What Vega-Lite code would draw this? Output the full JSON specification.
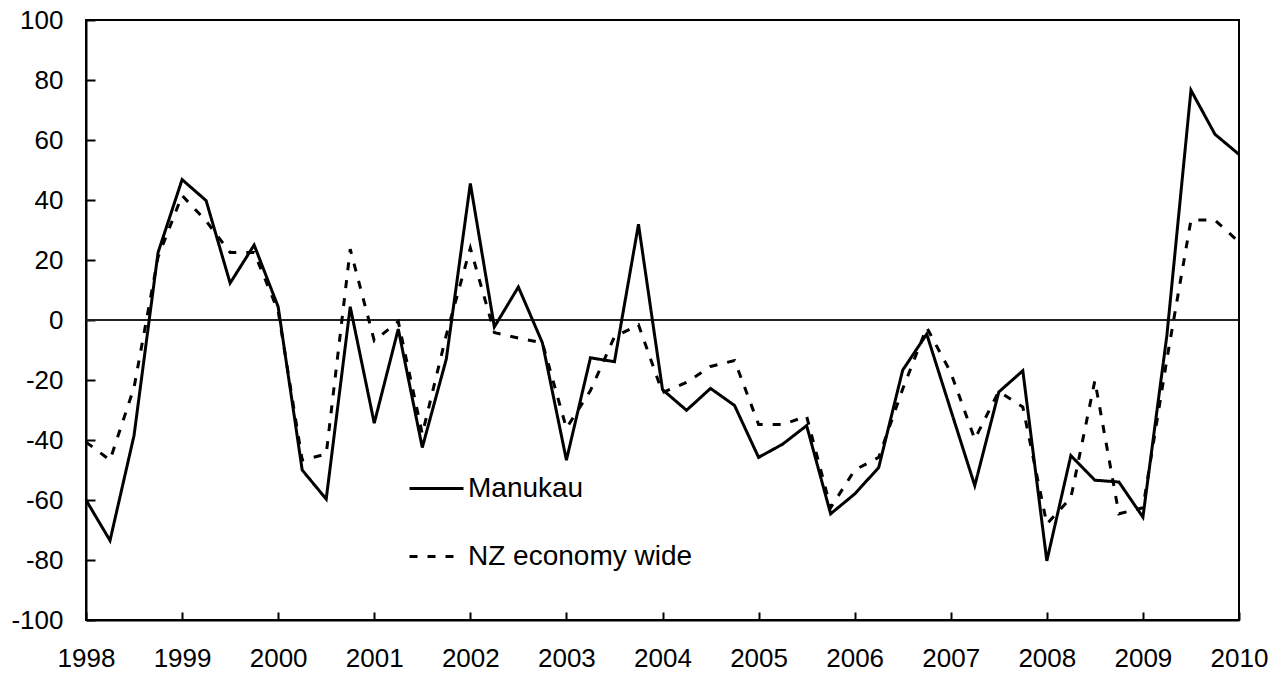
{
  "$schema": "https://vega.github.io/schema/vega-lite/v6.json",
  "width": 1153,
  "height": 600,
  "autosize": "none",
  "padding": {"left": 86, "top": 20, "right": 46, "bottom": 55},
  "background": "white",
  "config": {
    "font": "Liberation Sans",
    "view": {"stroke": "black", "strokeWidth": 2},
    "axis": {
      "grid": false,
      "title": null,
      "domainColor": "black",
      "domainWidth": 2,
      "ticks": true,
      "tickColor": "black",
      "tickWidth": 2,
      "labelColor": "black",
      "labelFont": "Liberation Sans",
      "labelFontSize": 26
    }
  },
  "data": {
    "values": [
      {"t": 1998.00, "series": "Manukau", "value": -60},
      {"t": 1998.25, "series": "Manukau", "value": -73.5},
      {"t": 1998.50, "series": "Manukau", "value": -38.5},
      {"t": 1998.75, "series": "Manukau", "value": 22.5},
      {"t": 1999.00, "series": "Manukau", "value": 46.8},
      {"t": 1999.25, "series": "Manukau", "value": 39.8},
      {"t": 1999.50, "series": "Manukau", "value": 12.3},
      {"t": 1999.75, "series": "Manukau", "value": 25},
      {"t": 2000.00, "series": "Manukau", "value": 4.4},
      {"t": 2000.25, "series": "Manukau", "value": -50},
      {"t": 2000.50, "series": "Manukau", "value": -59.7},
      {"t": 2000.75, "series": "Manukau", "value": 4.4},
      {"t": 2001.00, "series": "Manukau", "value": -34.4},
      {"t": 2001.25, "series": "Manukau", "value": -3},
      {"t": 2001.50, "series": "Manukau", "value": -42.5},
      {"t": 2001.75, "series": "Manukau", "value": -13},
      {"t": 2002.00, "series": "Manukau", "value": 45.5},
      {"t": 2002.25, "series": "Manukau", "value": -2.3},
      {"t": 2002.50, "series": "Manukau", "value": 11},
      {"t": 2002.75, "series": "Manukau", "value": -7.6},
      {"t": 2003.00, "series": "Manukau", "value": -46.7},
      {"t": 2003.25, "series": "Manukau", "value": -12.6},
      {"t": 2003.50, "series": "Manukau", "value": -13.9},
      {"t": 2003.75, "series": "Manukau", "value": 31.9},
      {"t": 2004.00, "series": "Manukau", "value": -23.2},
      {"t": 2004.25, "series": "Manukau", "value": -30.1},
      {"t": 2004.50, "series": "Manukau", "value": -22.8},
      {"t": 2004.75, "series": "Manukau", "value": -28.5},
      {"t": 2005.00, "series": "Manukau", "value": -45.8},
      {"t": 2005.25, "series": "Manukau", "value": -41.4},
      {"t": 2005.50, "series": "Manukau", "value": -35.2},
      {"t": 2005.75, "series": "Manukau", "value": -64.6},
      {"t": 2006.00, "series": "Manukau", "value": -58},
      {"t": 2006.25, "series": "Manukau", "value": -49.2},
      {"t": 2006.50, "series": "Manukau", "value": -16.7},
      {"t": 2006.75, "series": "Manukau", "value": -4.7},
      {"t": 2007.00, "series": "Manukau", "value": -30},
      {"t": 2007.25, "series": "Manukau", "value": -55.2},
      {"t": 2007.50, "series": "Manukau", "value": -24},
      {"t": 2007.75, "series": "Manukau", "value": -16.9},
      {"t": 2008.00, "series": "Manukau", "value": -80.3},
      {"t": 2008.25, "series": "Manukau", "value": -45.2},
      {"t": 2008.50, "series": "Manukau", "value": -53.4},
      {"t": 2008.75, "series": "Manukau", "value": -54},
      {"t": 2009.00, "series": "Manukau", "value": -65.7},
      {"t": 2009.25, "series": "Manukau", "value": -5},
      {"t": 2009.50, "series": "Manukau", "value": 76.6},
      {"t": 2009.75, "series": "Manukau", "value": 61.9},
      {"t": 2010.00, "series": "Manukau", "value": 55.2},
      {"t": 1998.00, "series": "NZ economy wide", "value": -40.7},
      {"t": 1998.25, "series": "NZ economy wide", "value": -46.7},
      {"t": 1998.50, "series": "NZ economy wide", "value": -22.5},
      {"t": 1998.75, "series": "NZ economy wide", "value": 21},
      {"t": 1999.00, "series": "NZ economy wide", "value": 41.5},
      {"t": 1999.25, "series": "NZ economy wide", "value": 33},
      {"t": 1999.50, "series": "NZ economy wide", "value": 22.5},
      {"t": 1999.75, "series": "NZ economy wide", "value": 22.5},
      {"t": 2000.00, "series": "NZ economy wide", "value": 3},
      {"t": 2000.25, "series": "NZ economy wide", "value": -46.7},
      {"t": 2000.50, "series": "NZ economy wide", "value": -44.7},
      {"t": 2000.75, "series": "NZ economy wide", "value": 23.6},
      {"t": 2001.00, "series": "NZ economy wide", "value": -6.9},
      {"t": 2001.25, "series": "NZ economy wide", "value": -0.5},
      {"t": 2001.50, "series": "NZ economy wide", "value": -38},
      {"t": 2001.75, "series": "NZ economy wide", "value": -5},
      {"t": 2002.00, "series": "NZ economy wide", "value": 24},
      {"t": 2002.25, "series": "NZ economy wide", "value": -4.2},
      {"t": 2002.50, "series": "NZ economy wide", "value": -6},
      {"t": 2002.75, "series": "NZ economy wide", "value": -7.6},
      {"t": 2003.00, "series": "NZ economy wide", "value": -36.1},
      {"t": 2003.25, "series": "NZ economy wide", "value": -23.5},
      {"t": 2003.50, "series": "NZ economy wide", "value": -5.6},
      {"t": 2003.75, "series": "NZ economy wide", "value": -1.6},
      {"t": 2004.00, "series": "NZ economy wide", "value": -24.2},
      {"t": 2004.25, "series": "NZ economy wide", "value": -20.8},
      {"t": 2004.50, "series": "NZ economy wide", "value": -15.5},
      {"t": 2004.75, "series": "NZ economy wide", "value": -13.5},
      {"t": 2005.00, "series": "NZ economy wide", "value": -34.8},
      {"t": 2005.25, "series": "NZ economy wide", "value": -34.8},
      {"t": 2005.50, "series": "NZ economy wide", "value": -32.1},
      {"t": 2005.75, "series": "NZ economy wide", "value": -62.6},
      {"t": 2006.00, "series": "NZ economy wide", "value": -50},
      {"t": 2006.25, "series": "NZ economy wide", "value": -45.8},
      {"t": 2006.50, "series": "NZ economy wide", "value": -23},
      {"t": 2006.75, "series": "NZ economy wide", "value": -2.5},
      {"t": 2007.00, "series": "NZ economy wide", "value": -17.5},
      {"t": 2007.25, "series": "NZ economy wide", "value": -39.7},
      {"t": 2007.50, "series": "NZ economy wide", "value": -23.8},
      {"t": 2007.75, "series": "NZ economy wide", "value": -29},
      {"t": 2008.00, "series": "NZ economy wide", "value": -68},
      {"t": 2008.25, "series": "NZ economy wide", "value": -59.3},
      {"t": 2008.50, "series": "NZ economy wide", "value": -20.2},
      {"t": 2008.75, "series": "NZ economy wide", "value": -64.6},
      {"t": 2009.00, "series": "NZ economy wide", "value": -62.6},
      {"t": 2009.25, "series": "NZ economy wide", "value": -13},
      {"t": 2009.50, "series": "NZ economy wide", "value": 33.3},
      {"t": 2009.75, "series": "NZ economy wide", "value": 33.3},
      {"t": 2010.00, "series": "NZ economy wide", "value": 26}
    ]
  },
  "layer": [
    {
      "mark": {"type": "rule", "color": "#222", "strokeWidth": 1.2},
      "encoding": {"y": {"datum": 0, "type": "quantitative"}}
    },
    {
      "mark": {"type": "line", "color": "black", "strokeWidth": 3},
      "encoding": {
        "x": {
          "field": "t",
          "type": "quantitative",
          "scale": {"domain": [1998, 2010], "nice": false, "zero": false},
          "axis": {
            "values": [1998, 1999, 2000, 2001, 2002, 2003, 2004, 2005, 2006, 2007, 2008, 2009, 2010],
            "format": "d",
            "ticks": true,
            "tickSize": -8,
            "labelPadding": 33,
            "labelFlush": false
          }
        },
        "y": {
          "field": "value",
          "type": "quantitative",
          "scale": {"domain": [-100, 100], "nice": false},
          "axis": {
            "values": [-100, -80, -60, -40, -20, 0, 20, 40, 60, 80, 100],
            "labelExpr": "'' + datum.value",
            "ticks": true,
            "tickSize": -9,
            "labelPadding": 32
          }
        },
        "strokeDash": {
          "field": "series",
          "type": "nominal",
          "scale": {"domain": ["Manukau", "NZ economy wide"], "range": [[1, 0], [8, 10]]},
          "legend": {
            "title": null,
            "orient": "none",
            "legendX": 322,
            "legendY": 440,
            "symbolType": "stroke",
            "symbolSize": 2916,
            "symbolStrokeWidth": 3,
            "symbolStrokeColor": "black",
            "labelFont": "Liberation Sans",
            "labelFontSize": 28,
            "labelColor": "black",
            "labelOffset": 3,
            "rowPadding": 25,
            "labelLimit": 400
          }
        }
      }
    }
  ]
}
